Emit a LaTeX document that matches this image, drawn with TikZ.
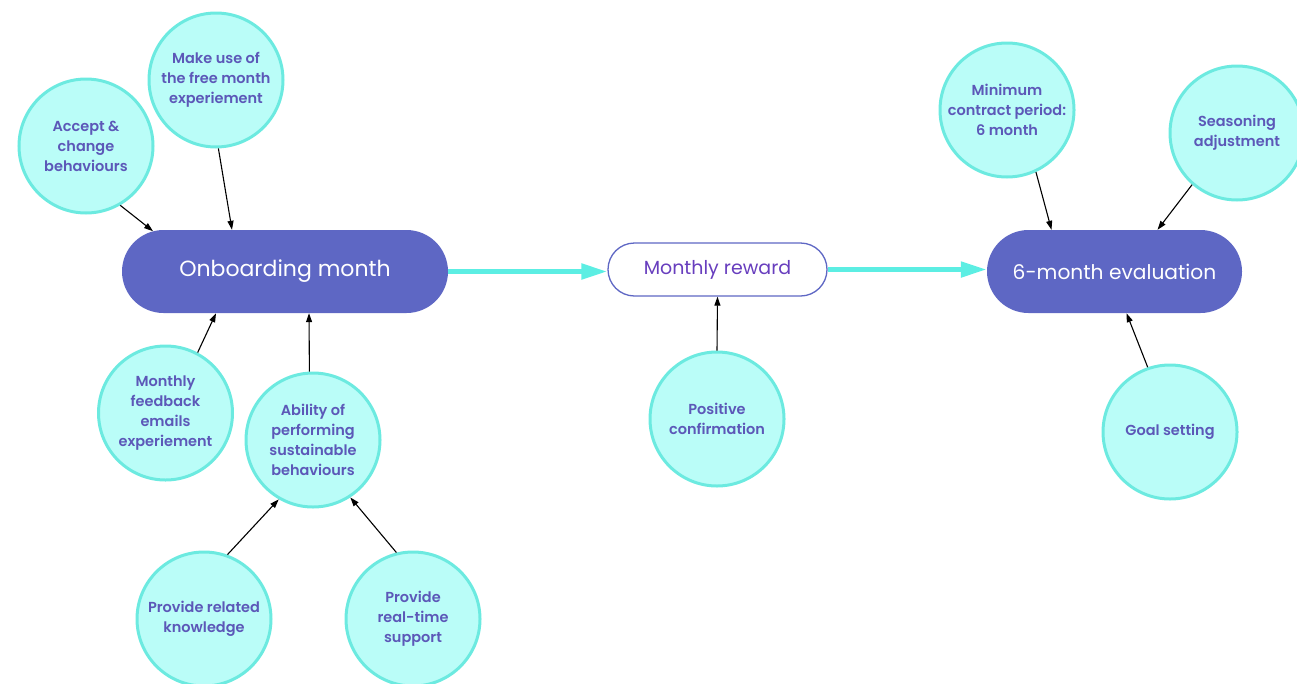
\documentclass[tikz,border=0pt]{standalone}
\usepackage{fontspec}
\setmainfont{Poppins}
\newfontfamily\bubblefont{Poppins SemiBold}
\usetikzlibrary{shapes.misc,arrows.meta}

\definecolor{pillblue}{RGB}{94,103,196}
\definecolor{bubblefill}{RGB}{186,253,248}
\definecolor{bubbleline}{RGB}{108,234,224}
\definecolor{bubbletext}{RGB}{92,88,184}
\definecolor{rewardtext}{RGB}{104,62,190}
\definecolor{flowcyan}{RGB}{92,238,227}

\tikzset{
  bubble/.style={circle, draw=bubbleline, fill=bubblefill, line width=3pt,
    minimum size=134pt, inner sep=0pt, align=center, text=bubbletext,
    font=\bubblefont\fontsize{14.5}{20}\selectfont},
  stage/.style={rounded rectangle, fill=pillblue, text=white,
    minimum height=83pt, inner sep=0pt},
  reward/.style={rounded rectangle, draw=pillblue, fill=white, line width=1.3pt,
    text=rewardtext, minimum width=219pt, minimum height=53pt, inner sep=0pt,
    font=\fontsize{19}{22}\selectfont},
  link/.style={-{Triangle[length=9pt,width=6pt]}, line width=1.1pt, black},
  flow/.style={-{Triangle[length=26pt,width=15pt]}, line width=5pt, draw=flowcyan}
}

\begin{document}
\begin{tikzpicture}[x=1pt,y=-1pt]
  \useasboundingbox (0,0) rectangle (1297,683);

  % main stages
  \node[stage, minimum width=326pt, font=\fontsize{22}{24}\selectfont] (onb) at (285,271.5) {Onboarding month};
  \node[reward] (rew) at (717.5,269.5) {Monthly reward};
  \node[stage, minimum width=255pt, font=\fontsize{20.2}{24}\selectfont] (eval) at (1114.5,271.5) {6-month evaluation};

  % supporting factors
  \node[bubble] (accept)   at (86,146)    {Accept \&\\change\\behaviours};
  \node[bubble] (freemon)  at (216,80)    {Make use of\\the free month\\experiement};
  \node[bubble] (feedback) at (165.5,413) {Monthly\\feedback\\emails\\experiement};
  \node[bubble] (ability)  at (313,440)   {Ability of\\performing\\sustainable\\behaviours};
  \node[bubble] (related)  at (204,619)   {Provide related\\knowledge};
  \node[bubble] (realtime) at (413,619)   {Provide\\real-time\\support};
  \node[bubble] (positive) at (717,419)   {Positive\\confirmation};
  \node[bubble] (minimum)  at (1007,110)  {Minimum\\contract period:\\6 month};
  \node[bubble] (season)   at (1237,133)  {Seasoning\\adjustment};
  \node[bubble] (goal)     at (1170,432)  {Goal setting};

  % flow between stages
  \draw[flow] (onb.east) -- (rew.west |- onb.east);
  \draw[flow] (rew.east) -- (eval.west |- rew.east);

  % influences
  \draw[link] (accept.-60) -- (onb.163);
  \draw[link] (freemon.-88) -- ([xshift=-53pt]onb.north);
  \draw[link] (feedback.62) -- ([xshift=-69pt]onb.south);
  \draw[link] (ability.93) -- ([xshift=24pt]onb.south);
  \draw[link] (related.70) -- (ability.-120);
  \draw[link] (realtime.104) -- (ability.-57);
  \draw[link] (positive.north) -- (rew.south);
  \draw[link] (minimum.-65) -- ([xshift=-63pt]eval.north);
  \draw[link] (season.-131) -- ([xshift=43pt]eval.north);
  \draw[link] (goal.109) -- ([xshift=12pt]eval.south);
\end{tikzpicture}
\end{document}
